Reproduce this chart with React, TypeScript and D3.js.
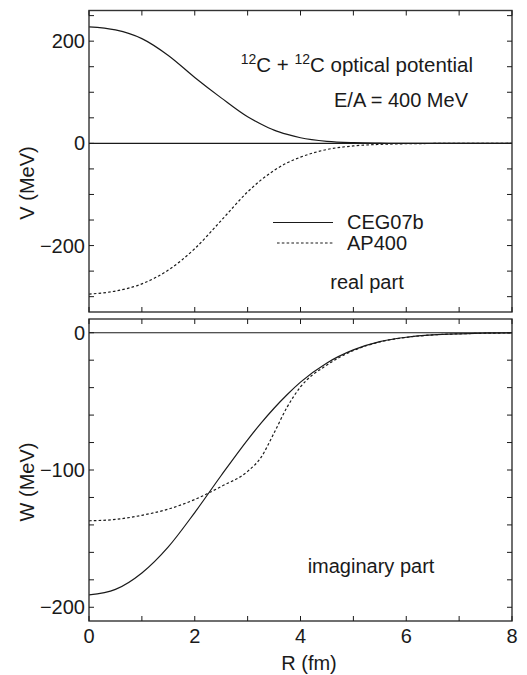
import React from 'react';
import * as d3 from 'd3';

// radius grid (fm)
const R = [0, 0.5, 1, 1.5, 2, 2.5, 3, 3.25, 3.5, 3.75, 4, 4.5, 5, 5.5, 6, 6.5, 7, 7.5, 8];

// real part V (MeV)
const realCEG = [228, 222, 205, 172, 129, 89, 52, 38, 26, 17.5, 11, 4, 1.3, 0.4, 0.1, 0, 0, 0, 0];
const realAP = [-295, -289, -275, -248, -206, -151, -95, -72, -53, -38, -27, -12, -5, -2, -0.7, -0.2, 0, 0, 0];

// imaginary part W (MeV)
const imagCEG = [-191, -187, -175, -156, -131, -104, -78, -66, -55, -45, -36, -22, -12.5, -6.5, -3.3, -1.6, -0.8, -0.35, -0.15];
const imagAP = [-137, -136, -133, -128.5, -121.5, -112, -101, -91, -73, -54, -39.5, -23.5, -13, -6.7, -3.4, -1.6, -0.8, -0.35, -0.15];

const xTicks = [0, 1, 2, 3, 4, 5, 6, 7, 8];
const xLabels = [0, 2, 4, 6, 8];
const vTicks = d3.range(-300, 251, 50);
const vLabels = [-200, 0, 200];
const wTicks = d3.range(-200, 1, 20);
const wLabels = [-200, -100, 0];

const W = 527;
const H = 675;
const left = 89;
const right = 512;
const font = '"Liberation Sans", Arial, Helvetica, sans-serif';
const ink = '#1a1a1a';

const x = d3.scaleLinear().domain([0, 8]).range([left, right]);
const yV = d3.scaleLinear().domain([-330, 260]).range([312, 10.5]);
const yW = d3.scaleLinear().domain([-210, 10]).range([621, 319]);

const fmt = (v: number) => (v < 0 ? '\u2212' + Math.abs(v) : String(v));

function Panel({ y, ticks, labels, series }: {
  y: d3.ScaleLinear<number, number>;
  ticks: number[];
  labels: number[];
  series: { vals: number[]; dash?: string }[];
}) {
  const [y0, y1] = y.range();
  const top = Math.min(y0, y1);
  const bot = Math.max(y0, y1);
  const id = `clip${Math.round(top)}`;
  const line = (vals: number[]) =>
    d3.line<number>().x((_, i) => x(R[i])).y(d => y(d)).curve(d3.curveMonotoneX)(vals) || '';
  return (
    <g>
      <defs>
        <clipPath id={id}>
          <rect x={left} y={top} width={right - left} height={bot - top} />
        </clipPath>
      </defs>
      <line x1={left} x2={right} y1={y(0)} y2={y(0)} stroke={ink} strokeWidth={1.2} />
      <g clipPath={`url(#${id})`}>
        {series.map((s, i) => (
          <path key={i} d={line(s.vals)} fill="none" stroke={ink} strokeWidth={1.2}
            strokeDasharray={s.dash} />
        ))}
      </g>
      <rect x={left} y={top} width={right - left} height={bot - top} fill="none" stroke="#333" strokeWidth={1.4} />
      {ticks.map(t => (
        <g key={t}>
          <line x1={left} x2={left + 5} y1={y(t)} y2={y(t)} stroke={ink} strokeWidth={1} />
          <line x1={right - 5} x2={right} y1={y(t)} y2={y(t)} stroke={ink} strokeWidth={1} />
        </g>
      ))}
      {xTicks.map(t => (
        <g key={t}>
          <line x1={x(t)} x2={x(t)} y1={top} y2={top + 5} stroke={ink} strokeWidth={1} />
          <line x1={x(t)} x2={x(t)} y1={bot} y2={bot - 5} stroke={ink} strokeWidth={1} />
        </g>
      ))}
      {labels.map(t => (
        <text key={t} x={left - 4} y={y(t) + 7} textAnchor="end" fontSize={20} fill={ink}>{fmt(t)}</text>
      ))}
    </g>
  );
}

export default function App() {
  return (
    <svg width={W} height={H} style={{ position: 'absolute', left: 0, top: 0, background: '#fff' }}
      fontFamily={font}>
      <Panel y={yV} ticks={vTicks} labels={vLabels}
        series={[{ vals: realCEG }, { vals: realAP, dash: '2.6,2.2' }]} />
      <Panel y={yW} ticks={wTicks} labels={wLabels}
        series={[{ vals: imagCEG }, { vals: imagAP, dash: '2.6,2.2' }]} />

      {xLabels.map(t => (
        <text key={t} x={x(t)} y={643} textAnchor="middle" fontSize={20} fill={ink}>{t}</text>
      ))}
      <text x={309} y={670} textAnchor="middle" fontSize={20} fill={ink}>R (fm)</text>
      <text transform="translate(34,183) rotate(-90)" textAnchor="middle" fontSize={20} fill={ink}>V (MeV)</text>
      <text transform="translate(34,482) rotate(-90)" textAnchor="middle" fontSize={20} fill={ink}>W (MeV)</text>

      <text x={473} y={72} textAnchor="end" fontSize={20.5} fill={ink}>
        <tspan fontSize={14} dy={-8}>12</tspan>
        <tspan dy={8}>C + </tspan>
        <tspan fontSize={14} dy={-8}>12</tspan>
        <tspan dy={8}>C optical potential</tspan>
      </text>
      <text x={468} y={107} textAnchor="end" fontSize={20} fill={ink}>E/A = 400 MeV</text>

      <line x1={273} x2={333} y1={222.5} y2={222.5} stroke={ink} strokeWidth={1.2} />
      <text x={347} y={229} fontSize={20} fill={ink}>CEG07b</text>
      <line x1={277} x2={333} y1={243} y2={243} stroke={ink} strokeWidth={1.2} strokeDasharray="2.6,2.2" />
      <text x={347} y={250} fontSize={20} fill={ink}>AP400</text>
      <text x={367} y={289} textAnchor="middle" fontSize={20} fill={ink}>real part</text>
      <text x={371} y={573} textAnchor="middle" fontSize={20} fill={ink}>imaginary part</text>
    </svg>
  );
}
